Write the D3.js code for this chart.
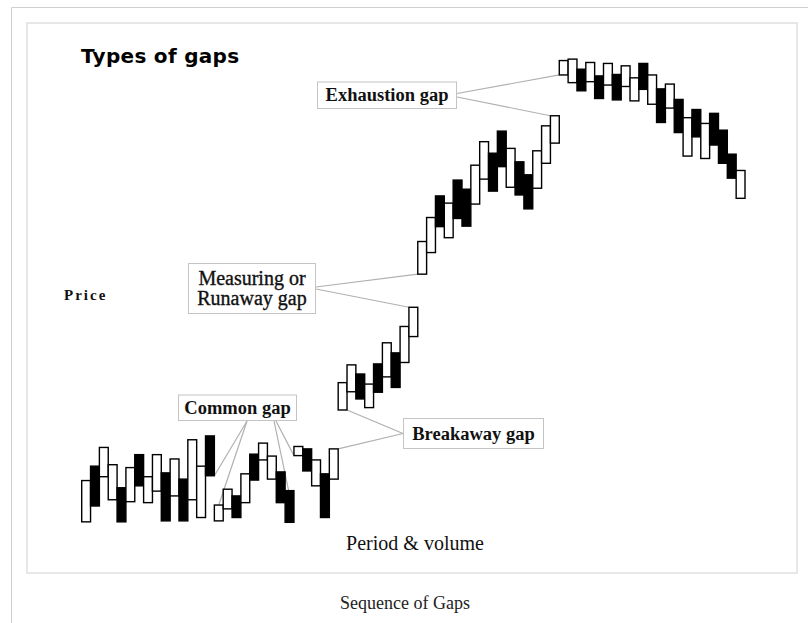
<!DOCTYPE html>
<html>
<head>
<meta charset="utf-8">
<script src="https://cdn.jsdelivr.net/npm/d3@7"></script>
<style>
  html, body { margin: 0; padding: 0; background: #fff; }
  svg { display: block; }
</style>
</head>
<body>
<svg id="chart" width="808" height="623"></svg>
<script>
// ---- data ----
const opens = [1.7,13.3,11.1,6.3,8.8,5.9,15.7,5.7,8.1,11.9,7.1,10.6,6.3,2.6,19.6,
  1.9,4.4,7.1,5.7,15.8,14.6,10.6,12.1,8.2,15.5,16.9,9.2,11.7,10.6,
  25.0,28.8,32.5,25.5,34.6,31.9,36.9,34.9,40.3,
  53.3,57.8,69.6,60.9,72.9,71.0,67.9,73.1,78.5,83.1,71.4,76.7,74.0,71.2,76.4,80.6,
  94.8,93.2,96.0,93.4,94.6,92.7,94.9,92.4,89.4,97.2,88.7,91.9,87.9,89.7,77.9,87.6,77.4,86.8,83.3,78.3,69.1];
const closes = [10.3,5.0,17.2,13.6,1.7,13.0,9.2,11.1,15.7,1.9,14.8,1.9,18.8,13.3,11.3,
  5.2,8.5,2.6,11.7,10.4,18.1,15.4,5.7,1.6,17.4,12.3,14.6,2.6,16.9,
  30.7,34.4,27.3,30.4,28.7,39.0,29.7,42.4,46.4,
  60.1,65.1,63.2,68.1,64.9,63.3,76.0,80.9,70.6,75.7,79.5,69.8,66.9,79.0,84.2,86.3,
  97.8,98.1,91.5,97.4,89.9,97.2,89.6,96.7,94.2,91.8,94.8,84.9,92.9,82.8,85.9,81.9,84.7,80.2,76.4,73.3,74.9];
const periods = d3.range(opens.length);

const titleText = "Types of gaps";
const yAxisLabel = "Price";
const xAxisLabel = "Period & volume";
const captionText = "Sequence of Gaps";

// annotation labels and the candles they point at (index, which edge, which price)
const annotationLabels = [["Exhaustion gap"], ["Measuring or", "Runaway gap"], ["Common gap"], ["Breakaway gap"]];
const annotationTargets = [
  [[54, "left", "open"], [53, "left", "close"]],
  [[38, "left", "open"], [37, "left", "close"]],
  [[14, "right", "close"], [15, "mid", "close"], [23, "inner", "open"], [24, "left", "open"]],
  [[28, "right", "close"], [29, "right", "open"]]
];

// ---- layout ----
const boxes = [
  {x: 317.5, y: 82, w: 139, h: 26.5, anchors: [[457, 93.5], [457, 97]], bold: true, size: 18.5},
  {x: 188.5, y: 263.5, w: 127, h: 50, anchors: [[316, 287], [316, 289]], bold: false, size: 20},
  {x: 178.5, y: 395, w: 118, h: 25.5, anchors: [[247, 421], [247, 421], [274, 421], [276, 421]], bold: true, size: 18.5},
  {x: 403.5, y: 418.5, w: 140, h: 30, anchors: [[403, 433.5], [403, 433.5]], bold: true, size: 18.5}
];

const svg = d3.select("#chart");

// outer page frame
svg.append("line").attr("x1", 11.5).attr("x2", 808).attr("y1", 7.5).attr("y2", 7.5)
  .attr("stroke", "#cfcfcf").attr("stroke-width", 1);
svg.append("line").attr("x1", 11.5).attr("x2", 11.5).attr("y1", 7.5).attr("y2", 623)
  .attr("stroke", "#cfcfcf").attr("stroke-width", 1);

// inner image box
svg.append("rect").attr("x", 27).attr("y", 23).attr("width", 770).attr("height", 550)
  .attr("fill", "#fff").attr("stroke", "#e0e0e0").attr("stroke-width", 1.5);

const x = d3.scaleBand().domain(periods).range([81.7, 745]).paddingInner(0).paddingOuter(0);
const y = d3.scaleLinear().domain([0, 100]).range([530, 50]);
const bw = x.bandwidth();

// title
svg.append("text").attr("x", 81).attr("y", 63)
  .attr("font-family", "'DejaVu Sans', Verdana, sans-serif").attr("font-weight", "bold")
  .attr("font-size", 20).attr("letter-spacing", 0.3).attr("fill", "#000").text(titleText);

// axis-like labels
svg.append("text").attr("x", 64).attr("y", 300)
  .attr("font-family", "'Liberation Serif', serif").attr("font-weight", "bold")
  .attr("font-size", 15).attr("letter-spacing", 2).attr("fill", "#111").text(yAxisLabel);

svg.append("text").attr("x", 415).attr("y", 550).attr("text-anchor", "middle")
  .attr("font-family", "'Liberation Serif', serif")
  .attr("font-size", 20).attr("fill", "#111").text(xAxisLabel);

svg.append("text").attr("x", 405).attr("y", 609).attr("text-anchor", "middle")
  .attr("font-family", "'Liberation Serif', serif")
  .attr("font-size", 18).attr("fill", "#222").text(captionText);

// leader lines
function targetPoint(t) {
  const [i, edge, key] = t;
  let px = x(i);
  if (edge === "right") px = x(i) + bw;
  else if (edge === "mid") px = x(i) + bw / 2;
  else if (edge === "inner") px = x(i) + bw * 0.4;
  const py = y(key === "open" ? opens[i] : closes[i]);
  return [px, py];
}
annotationTargets.forEach((targets, k) => {
  targets.forEach((t, j) => {
    const [sx, sy] = boxes[k].anchors[j];
    const [tx, ty] = targetPoint(t);
    svg.append("line").attr("x1", sx).attr("y1", sy).attr("x2", tx).attr("y2", ty)
      .attr("stroke", "#b0b0b0").attr("stroke-width", 1.2);
  });
});

// candles (bodies only)
svg.append("g").selectAll("rect").data(periods).join("rect")
  .attr("x", i => x(i))
  .attr("width", bw)
  .attr("y", i => y(Math.max(opens[i], closes[i])))
  .attr("height", i => Math.abs(y(opens[i]) - y(closes[i])))
  .attr("fill", i => closes[i] >= opens[i] ? "#fff" : "#000")
  .attr("stroke", "#000").attr("stroke-width", 1.4);

// annotation boxes
annotationLabels.forEach((lines, k) => {
  const b = boxes[k];
  svg.append("rect").attr("x", b.x).attr("y", b.y).attr("width", b.w).attr("height", b.h)
    .attr("fill", "#fff").attr("stroke", "#c4c4c4").attr("stroke-width", 1);
  const t = svg.append("text")
    .attr("font-family", "'Liberation Serif', serif")
    .attr("font-weight", b.bold ? "bold" : "normal")
    .attr("font-size", b.size).attr("fill", "#111")
    .attr("text-anchor", "middle");
  if (!b.bold) t.attr("stroke", "#111").attr("stroke-width", 0.35);
  const lh = 20;
  const startY = b.y + b.h / 2 - (lines.length - 1) * lh / 2 + 6;
  lines.forEach((ln, j) => {
    t.append("tspan").attr("x", b.x + b.w / 2).attr("y", startY + j * lh).text(ln);
  });
});
</script>
</body>
</html>
